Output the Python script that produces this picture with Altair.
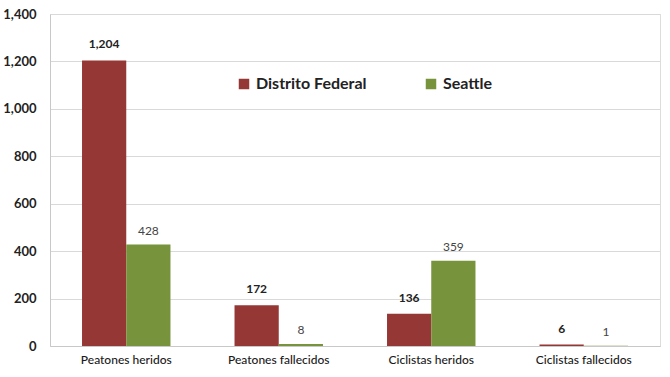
import altair as alt
import pandas as pd

categories = ["Peatones heridos", "Peatones fallecidos", "Ciclistas heridos", "Ciclistas fallecidos"]
series = ["Distrito Federal", "Seattle"]
df_values = [1204, 172, 136, 6]
seattle_values = [428, 8, 359, 1]
colors = ["#953735", "#77933C"]

rows = []
for c, v in zip(categories, df_values):
    rows.append({"cat": c, "serie": series[0], "val": v})
for c, v in zip(categories, seattle_values):
    rows.append({"cat": c, "serie": series[1], "val": v})
data = pd.DataFrame(rows)

FONT = "Lato"

x = alt.X("cat:N", sort=categories, title=None,
          scale=alt.Scale(paddingInner=0.42, paddingOuter=0.21),
          axis=alt.Axis(labelAngle=0, labelFontSize=12, labelColor="#1a1a1a", labelFont=FONT,
                        labelFontWeight=500,
                        domainColor="#c8c8c8", ticks=False, labelPadding=8))
xo = alt.XOffset("serie:N", sort=series, scale=alt.Scale(paddingInner=0, paddingOuter=0))
y = alt.Y("val:Q", title=None,
          scale=alt.Scale(domain=[0, 1400]),
          axis=alt.Axis(values=list(range(0, 1401, 200)), format=",.0f", labelFontSize=13,
                        labelFontWeight="bold", labelColor="#222222", labelFont=FONT,
                        gridColor="#d9d9d9", domainColor="#c8c8c8", ticks=False,
                        labelPadding=14))

base = alt.Chart(data)

bars = base.mark_bar().encode(
    x=x, xOffset=xo, y=y,
    color=alt.Color("serie:N", sort=series,
                    scale=alt.Scale(domain=series, range=colors),
                    legend=alt.Legend(title=None, orient="none", legendX=186, legendY=62,
                                      direction="horizontal", symbolType="square",
                                      symbolSize=110, symbolStrokeWidth=0,
                                      labelFontSize=16, labelFontWeight="bold",
                                      labelFont=FONT, labelColor="#222222",
                                      columnPadding=56, labelOffset=4)),
)

lab_df = base.transform_filter(alt.datum.serie == series[0]).mark_text(
    dy=-9, baseline="bottom", fontSize=12, fontWeight="bold", font=FONT, color="#222222"
).encode(x=x, xOffset=xo, y=y, text=alt.Text("val:Q", format=",.0f"))

lab_se = base.transform_filter(alt.datum.serie == series[1]).mark_text(
    dy=-7, baseline="bottom", fontSize=12, font=FONT, color="#444444"
).encode(x=x, xOffset=xo, y=y, text=alt.Text("val:Q", format=",.0f"))

chart = alt.layer(bars, lab_df, lab_se).properties(
    width=610, height=332,
    autosize=alt.AutoSizeParams(type="none"),
    padding={"left": 50, "top": 14, "right": 10, "bottom": 31},
).configure_view(stroke=None).configure(background="white")

chart.save("out.html", embed_options={"renderer": "svg", "actions": False})
